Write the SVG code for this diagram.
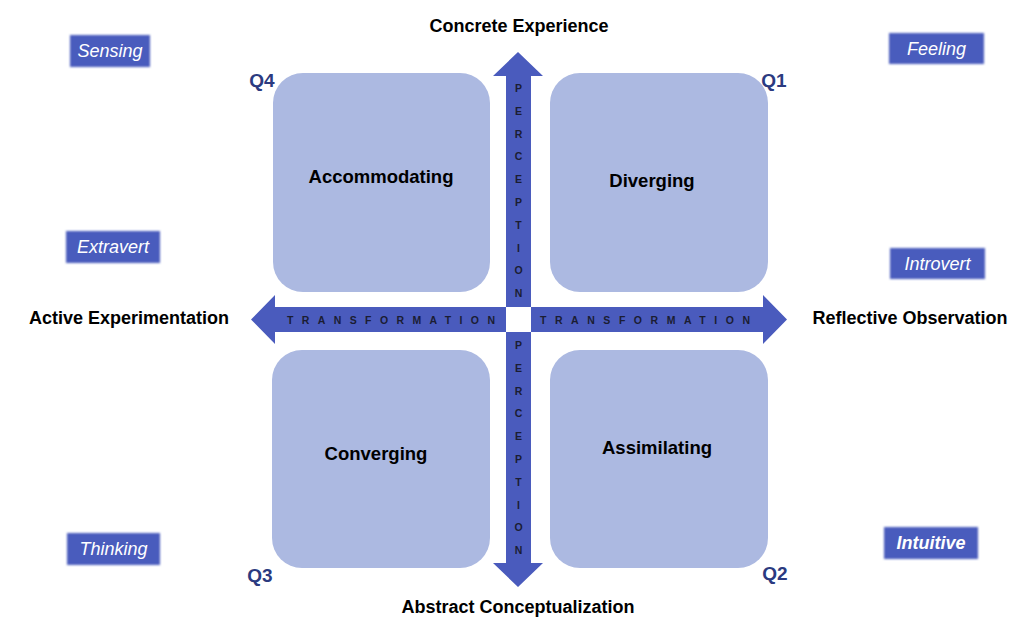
<svg xmlns="http://www.w3.org/2000/svg" width="1033" height="630" viewBox="0 0 1033 630">
<defs>
<style>
.quad{fill:#acb9e1;}
.arr{fill:#4a5bbd;}
.lab{font-family:"Liberation Sans",Arial,sans-serif;font-weight:bold;font-size:18px;fill:#000;text-anchor:middle;}
.bl{font-family:"Liberation Sans",Arial,sans-serif;font-weight:bold;font-size:18.5px;fill:#000;text-anchor:middle;}
.q{font-family:"Liberation Sans",Arial,sans-serif;font-weight:bold;font-size:19px;fill:#2b3a80;text-anchor:middle;}
.tag{fill:#4a5bbd;filter:url(#soft);}
.tagt{font-family:"Liberation Sans",Arial,sans-serif;font-style:italic;font-size:18px;fill:#fff;text-anchor:middle;}
.sp{font-family:"Liberation Sans",Arial,sans-serif;font-weight:bold;font-size:10.5px;fill:#1b1d33;text-anchor:middle;}
</style>
<filter id="soft" x="-10%" y="-20%" width="120%" height="140%"><feGaussianBlur stdDeviation="0.9"/></filter>
</defs>
<rect width="1033" height="630" fill="#fff"/>

<g id="q4"><rect class="quad" x="273" y="73" width="217" height="219" rx="30"/><text class="bl" x="381" y="183">Accommodating</text><text class="q" x="262" y="87">Q4</text></g>
<g id="q1"><rect class="quad" x="550" y="73" width="218" height="219" rx="30"/><text class="bl" x="652" y="187">Diverging</text><text class="q" x="774" y="87">Q1</text></g>
<g id="q3"><rect class="quad" x="272" y="350" width="218" height="218" rx="30"/><text class="bl" x="376" y="460">Converging</text><text class="q" x="260" y="582">Q3</text></g>
<g id="q2"><rect class="quad" x="550" y="350" width="218" height="218" rx="30"/><text class="bl" x="657" y="454">Assimilating</text><text class="q" x="775" y="580">Q2</text></g>

<g id="connectors">
<polygon class="arr" points="506,307 506,76 493,76 518,52 543,76 531,76 531,307"/>
<polygon class="arr" points="506,332 506,563 493,563 518,587 543,563 531,563 531,332"/>
<polygon class="arr" points="506,307 275,307 275,295 251,319.5 275,344 275,332 506,332"/>
<polygon class="arr" points="531,307 763,307 763,295 787,319.5 763,344 763,332 531,332"/>
<rect x="507" y="308" width="23" height="23" fill="#fff"/>
<text class="sp" x="391" y="323.5" textLength="208" lengthAdjust="spacing">TRANSFORMATION</text>
<text class="sp" x="645" y="323.5" textLength="210" lengthAdjust="spacing">TRANSFORMATION</text>
<text class="sp"><tspan x="518.5" y="92">P</tspan><tspan x="518.5" dy="22.8">E</tspan><tspan x="518.5" dy="22.8">R</tspan><tspan x="518.5" dy="22.8">C</tspan><tspan x="518.5" dy="22.8">E</tspan><tspan x="518.5" dy="22.8">P</tspan><tspan x="518.5" dy="22.8">T</tspan><tspan x="518.5" dy="22.8">I</tspan><tspan x="518.5" dy="22.8">O</tspan><tspan x="518.5" dy="22.8">N</tspan></text>
<text class="sp"><tspan x="518.5" y="349">P</tspan><tspan x="518.5" dy="22.8">E</tspan><tspan x="518.5" dy="22.8">R</tspan><tspan x="518.5" dy="22.8">C</tspan><tspan x="518.5" dy="22.8">E</tspan><tspan x="518.5" dy="22.8">P</tspan><tspan x="518.5" dy="22.8">T</tspan><tspan x="518.5" dy="22.8">I</tspan><tspan x="518.5" dy="22.8">O</tspan><tspan x="518.5" dy="22.8">N</tspan></text>
</g>

<g id="axis-labels">
<text class="lab" x="519" y="32">Concrete Experience</text>
<text class="lab" x="129" y="324">Active Experimentation</text>
<text class="lab" x="910" y="324">Reflective Observation</text>
<text class="lab" x="518" y="613">Abstract Conceptualization</text>
</g>

<g id="sensing"><rect class="tag" x="70" y="35" width="80" height="32"/><text class="tagt" x="110" y="57">Sensing</text></g>
<g id="feeling"><rect class="tag" x="889" y="33" width="95" height="31"/><text class="tagt" x="936.5" y="55">Feeling</text></g>
<g id="extravert"><rect class="tag" x="66" y="231" width="94" height="32"/><text class="tagt" x="113" y="253">Extravert</text></g>
<g id="introvert"><rect class="tag" x="890" y="248" width="95" height="31"/><text class="tagt" x="937.5" y="270">Introvert</text></g>
<g id="thinking"><rect class="tag" x="67" y="533" width="93" height="32"/><text class="tagt" x="113.5" y="555">Thinking</text></g>
<g id="intuitive"><rect class="tag" x="884" y="527" width="94" height="32"/><text class="tagt" x="931" y="549" font-weight="bold">Intuitive</text></g>
</svg>
